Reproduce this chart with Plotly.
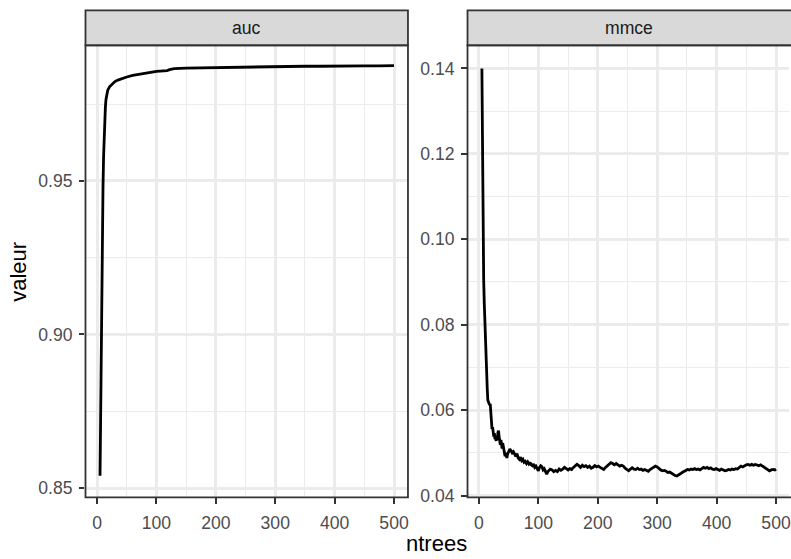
import plotly.graph_objects as go

W, H = 791, 559

# ---------------- data ----------------
auc_ntrees = [5, 6, 7, 8, 9, 10, 11, 12, 13, 14, 15, 16, 18, 21, 25, 30, 35, 40, 50, 60,
              70, 80, 90, 100, 110, 118, 122, 130, 150, 175, 200, 225, 250, 275, 300, 325,
              350, 375, 400, 425, 450, 475, 500]
auc_values = [0.854, 0.878, 0.900, 0.918, 0.934, 0.948, 0.958, 0.965, 0.970, 0.974, 0.9765,
              0.978, 0.9795, 0.9806, 0.9815, 0.9823, 0.9828, 0.9832, 0.9838, 0.9843, 0.9847,
              0.9850, 0.9853, 0.9856, 0.9857, 0.9859, 0.9862, 0.9865, 0.9867, 0.9868, 0.9869,
              0.9869, 0.9870, 0.9871, 0.9872, 0.9872, 0.9873, 0.9873, 0.9874, 0.9874, 0.9874,
              0.9874, 0.9875]

mmce_ntrees = [5, 6, 7, 8, 9, 10, 11, 12, 13, 14, 15, 16, 17, 18, 19, 20, 21, 22, 23, 24, 25,
               26, 27, 28, 29, 30, 31, 32, 33, 34, 35, 36, 37, 38, 39, 40, 41, 42, 43, 44, 45,
               46, 47, 48, 50, 52, 54, 56, 58, 60, 62, 64, 66, 68, 70, 72, 74, 76, 78, 80, 82,
               84, 86, 88, 90, 92, 94, 96, 98, 100, 102, 104, 106, 108, 110, 112, 114, 116, 118,
               120, 123, 126, 129, 132, 135, 138, 141, 144, 147, 150, 153, 156, 159, 162, 165,
               168, 171, 174, 177, 180, 183, 186, 189, 192, 195, 198, 201, 204, 207, 210, 213,
               216, 219, 222, 225, 228, 231, 234, 237, 240, 243, 246, 249, 252, 255, 258, 261,
               264, 267, 270, 273, 276, 279, 282, 285, 288, 291, 294, 297, 300, 303, 306, 309,
               312, 315, 318, 321, 324, 327, 330, 333, 336, 339, 342, 345, 348, 351, 354, 357,
               360, 363, 366, 369, 372, 375, 378, 381, 384, 387, 390, 393, 396, 399, 402, 405,
               408, 411, 414, 417, 420, 423, 426, 429, 432, 435, 438, 441, 444, 447, 450, 453,
               456, 459, 462, 465, 468, 471, 474, 477, 480, 483, 486, 489, 492, 495, 498, 500]
mmce_values = [0.1400, 0.1150, 0.0990, 0.0905, 0.0850, 0.0800, 0.0750, 0.0715, 0.0690, 0.0650,
               0.0623, 0.0620, 0.0618, 0.0612, 0.0615, 0.0590, 0.0570, 0.0556, 0.0560, 0.0545,
               0.0538, 0.0546, 0.0532, 0.0536, 0.0528, 0.0540, 0.0530, 0.0548, 0.0552, 0.0538,
               0.0525, 0.0519, 0.0530, 0.0522, 0.0510, 0.0523, 0.0515, 0.0505, 0.0498, 0.0492,
               0.0500, 0.0490, 0.0488, 0.0496, 0.0502, 0.0509, 0.0505, 0.0500, 0.0503, 0.0495,
               0.0492, 0.0498, 0.0488, 0.0485, 0.0490, 0.0482, 0.0485, 0.0478, 0.0480, 0.0475,
               0.0479, 0.0474, 0.0478, 0.0472, 0.0470, 0.0474, 0.0466, 0.0469, 0.0462, 0.0458,
               0.0466, 0.0470, 0.0468, 0.0460, 0.0463, 0.0455, 0.0450, 0.0456, 0.0459, 0.0462,
               0.0460, 0.0456, 0.0459, 0.0456, 0.0462, 0.0459, 0.0462, 0.0466, 0.0463, 0.0460,
               0.0463, 0.0461, 0.0466, 0.0470, 0.0473, 0.0470, 0.0466, 0.0471, 0.0468, 0.0470,
               0.0466, 0.0469, 0.0464, 0.0466, 0.0470, 0.0467, 0.0469, 0.0466, 0.0463, 0.0461,
               0.0466, 0.0470, 0.0474, 0.0477, 0.0475, 0.0472, 0.0475, 0.0472, 0.0469, 0.0471,
               0.0469, 0.0464, 0.0460, 0.0458, 0.0462, 0.0465, 0.0462, 0.0461, 0.0464, 0.0461,
               0.0462, 0.0459, 0.0461, 0.0458, 0.0457, 0.0461, 0.0464, 0.0466, 0.0469, 0.0467,
               0.0463, 0.0460, 0.0458, 0.0459, 0.0457, 0.0454, 0.0455, 0.0452, 0.0450, 0.0447,
               0.0446, 0.0448, 0.0451, 0.0454, 0.0457, 0.0459, 0.0461, 0.0460, 0.0462, 0.0461,
               0.0463, 0.0461, 0.0462, 0.0460, 0.0463, 0.0466, 0.0464, 0.0466, 0.0463, 0.0465,
               0.0462, 0.0461, 0.0463, 0.0460, 0.0459, 0.0462, 0.0460, 0.0458, 0.0459, 0.0461,
               0.0460, 0.0462, 0.0461, 0.0463, 0.0462, 0.0466, 0.0469, 0.0467, 0.0470, 0.0472,
               0.0473, 0.0471, 0.0473, 0.0471, 0.0473, 0.0472, 0.0470, 0.0472, 0.0469, 0.0466,
               0.0463, 0.0460, 0.0458, 0.0460, 0.0461, 0.0460, 0.0462]

facet_labels = ["auc", "mmce"]
x_title = "ntrees"
y_title = "valeur"

# ---------------- layout geometry (pixels) ----------------
def px_x(p):
    return p / W

def px_y(p):
    return 1 - p / H

L1, R1 = 85.7, 409.0
L2, R2 = 468.7, 794.0
TOP_STRIP, TOP_PANEL, BOTTOM = 10.5, 46.0, 504.5

FONT = "Liberation Sans, Arial, Helvetica, sans-serif"
GRID = "#EBEBEB"
DARK = "#333333"

fig = go.Figure()
fig.add_trace(go.Scatter(x=auc_ntrees, y=auc_values, mode="lines",
                         line=dict(color="black", width=2.8), xaxis="x", yaxis="y",
                         showlegend=False, hoverinfo="skip"))
fig.add_trace(go.Scatter(x=mmce_ntrees, y=mmce_values, mode="lines",
                         line=dict(color="black", width=2.8), xaxis="x2", yaxis="y2",
                         showlegend=False, hoverinfo="skip"))

tickfont = dict(family=FONT, size=17.6, color="#4D4D4D")

def xaxis(domain, rng, anchor):
    return dict(domain=domain, range=rng, anchor=anchor, tick0=0, dtick=100,
                showgrid=True, gridcolor=GRID, gridwidth=2.8, zeroline=False,
                showline=False, ticks="outside", ticklen=5.5, tickwidth=1.5,
                tickcolor=DARK, tickfont=tickfont, ticklabelstandoff=4,
                ticklabeloverflow="allow",
                minor=dict(dtick=50, tick0=0, showgrid=True, gridcolor=GRID,
                           gridwidth=1.4, ticks=""),
                fixedrange=True)

def yaxis(domain, rng, anchor, dtick, tick0):
    return dict(domain=domain, range=rng, anchor=anchor, tick0=tick0, dtick=dtick,
                tickformat=".2f",
                showgrid=True, gridcolor=GRID, gridwidth=2.8, zeroline=False,
                showline=False, ticks="outside", ticklen=5.5, tickwidth=1.5,
                tickcolor=DARK, tickfont=tickfont, ticklabelstandoff=3,
                minor=dict(dtick=dtick / 2, tick0=tick0, showgrid=True, gridcolor=GRID,
                           gridwidth=1.4, ticks=""),
                fixedrange=True)

ydom = [px_y(BOTTOM), px_y(TOP_PANEL)]
fig.update_layout(
    width=W, height=H,
    margin=dict(l=0, r=0, t=0, b=0),
    paper_bgcolor="white", plot_bgcolor="white",
    xaxis=xaxis([px_x(L1), px_x(R1)], [-19.5, 523.5], "y"),
    yaxis=yaxis(ydom, [0.847, 0.9941], "x", 0.05, 0.85),
    xaxis2=xaxis([px_x(L2), 1.0], [-19.2, 521.8], "y2"),
    yaxis2=yaxis(ydom, [0.0396, 0.1454], "x2", 0.02, 0.04),
)

shapes = []
for (l, r) in [(L1, R1), (L2, R2)]:
    shapes.append(dict(type="rect", xref="paper", yref="paper",
                       x0=px_x(l), x1=px_x(r), y0=px_y(TOP_PANEL), y1=px_y(TOP_STRIP),
                       fillcolor="#D9D9D9", line=dict(color=DARK, width=1.8), layer="above"))
    shapes.append(dict(type="rect", xref="paper", yref="paper",
                       x0=px_x(l), x1=px_x(r), y0=px_y(BOTTOM), y1=px_y(TOP_PANEL),
                       fillcolor="rgba(0,0,0,0)", line=dict(color=DARK, width=1.8),
                       layer="above"))
fig.update_layout(shapes=shapes)

annotations = []
for (l, r), lab in zip([(L1, R1), (L2, 792.0)], facet_labels):
    annotations.append(dict(x=px_x((l + r) / 2), y=px_y((TOP_STRIP + TOP_PANEL) / 2),
                            xref="paper", yref="paper", text=lab, showarrow=False,
                            xanchor="center", yanchor="middle",
                            font=dict(family=FONT, size=17.6, color="#1A1A1A")))
annotations.append(dict(x=px_x(438), y=px_y(551), xref="paper", yref="paper",
                        text=x_title, showarrow=False, xanchor="center", yanchor="middle",
                        font=dict(family=FONT, size=22, color="black")))
annotations.append(dict(x=px_x(18.5), y=px_y((TOP_PANEL + BOTTOM) / 2), xref="paper",
                        yref="paper", text=y_title, showarrow=False, textangle=-90,
                        xanchor="center", yanchor="middle",
                        font=dict(family=FONT, size=22, color="black")))
fig.update_layout(annotations=annotations)

fig.write_html("out.html", config={"displayModeBar": False},
               post_script="document.body.style.margin='0';document.body.style.overflow='hidden';")
